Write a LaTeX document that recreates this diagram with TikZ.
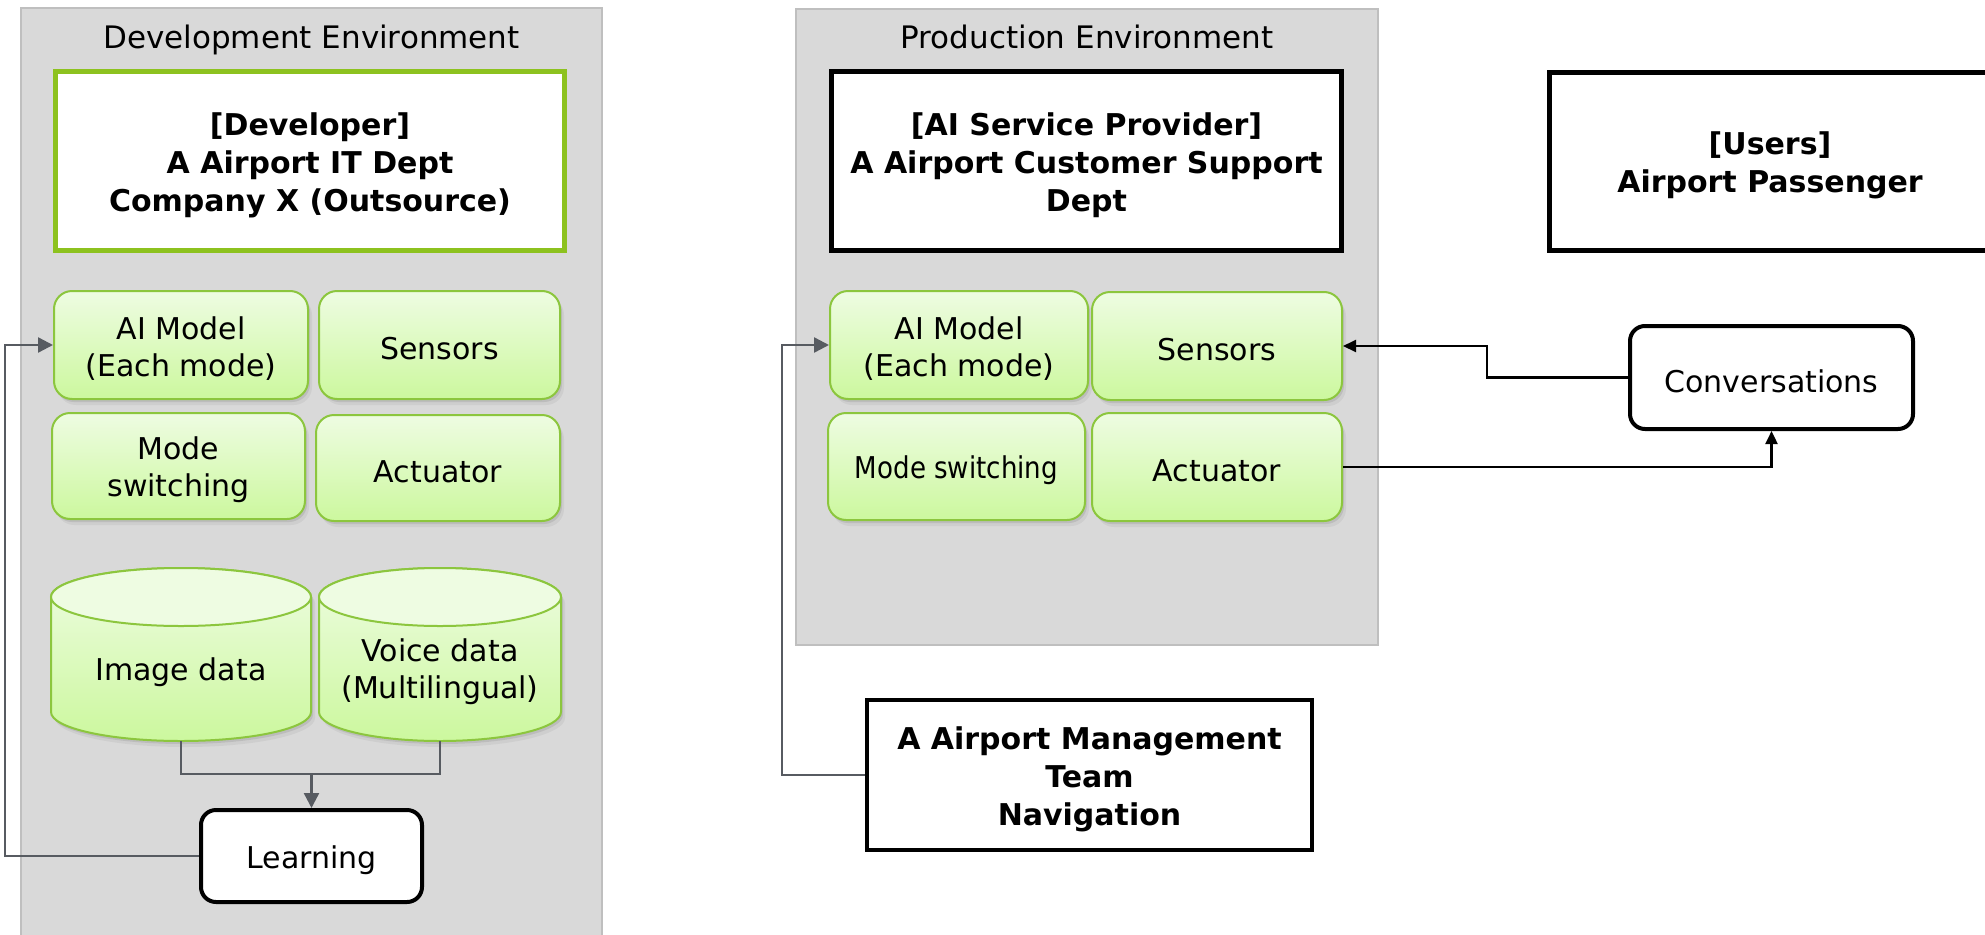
\documentclass[tikz,border=0pt]{standalone}
\usepackage{fontspec}
\setmainfont{DejaVu Sans}
\newfontfamily\narrowsans[FakeStretch=0.87]{DejaVu Sans}
\usetikzlibrary{arrows.meta,shadows}

\definecolor{envfill}{HTML}{D9D9D9}
\definecolor{envdraw}{HTML}{BFBFBF}
\definecolor{greentop}{HTML}{EEFCE2}
\definecolor{greenbot}{HTML}{CCF89E}
\definecolor{greenedge}{HTML}{8CC63E}
\definecolor{devgreen}{HTML}{8DC21F}
\definecolor{conngray}{HTML}{575B61}

\newcommand\txtnormal{\fontsize{30pt}{37pt}\selectfont}
\newcommand\txtbold{\fontsize{30pt}{38pt}\selectfont\bfseries}
\newcommand\txttitle{\fontsize{31pt}{37pt}\selectfont}

% text of a box, set a little below the box centre
\newcommand\boxlabel[3][]{\node[txtnode,#1] (#2-text) at ([yshift=-4pt]#2.center) {#3};}

% cylinder: name, centre x, top y, bottom y, x radius, y radius, text
\newcommand\drawcyl[7]{%
  \path[cylbody] ({#2-#5},{#3+#6}) -- ({#2-#5},{#4-#6})
    arc[start angle=180,end angle=0,x radius=#5,y radius=#6]
    -- ({#2+#5},{#3+#6})
    arc[start angle=360,end angle=180,x radius=#5,y radius=#6] -- cycle;
  \path[cylcap] (#2,{#3+#6}) ellipse[x radius=#5,y radius=#6];
  \node[inner sep=0,outer sep=0,minimum width={2*#5},minimum height={#4-#3}]
    (#1) at (#2,{(#3+#4)/2}) {};
  \node[txtnode] (#1-text) at (#2,672) {#7};
}

\begin{document}
\begin{tikzpicture}[x=1pt,y=-1pt,
  softshadow/.style={
    drop shadow={shadow xshift=2pt,shadow yshift=-3pt,opacity=.22},
    drop shadow={shadow xshift=4pt,shadow yshift=-6pt,opacity=.12}},
  envbox/.style={draw=envdraw,line width=2pt,fill=envfill,inner sep=0,outer sep=0},
  envtitle/.style={font=\txttitle,anchor=base,inner sep=0},
  txtnode/.style={align=center,font=\txtnormal,inner sep=0},
  greenbox/.style={draw=greenedge,line width=2pt,rounded corners=18pt,
    top color=greentop,bottom color=greenbot,softshadow,inner sep=0},
  cylbody/.style={draw=greenedge,line width=2pt,top color=greentop,bottom color=greenbot,softshadow},
  cylcap/.style={draw=greenedge,line width=2pt,fill=greentop},
  rolebox/.style={draw=black,line width=5pt,fill=white,inner sep=0},
  devrole/.style={rolebox,draw=devgreen},
  actbox/.style={draw=black,line width=4pt,fill=white,rounded corners=15pt,inner sep=0},
  gconn/.style={draw=conngray,line width=2.4pt},
  gtip/.style={gconn,-{Triangle[length=15pt,width=15pt]}},
  bconn/.style={draw=black,line width=2.2pt,-{Triangle[length=13pt,width=12pt]}}
]
\useasboundingbox (0,0) rectangle (1985,934);
\clip (0,0) rectangle (1985,934);

% environments
\node[envbox,minimum width=581pt,minimum height=950pt] (devenv) at (311.5,483) {};
\node[envtitle] (devtitle) at (311.5,48.5) {Development Environment};
\node[envbox,minimum width=582pt,minimum height=636pt] (prodenv) at (1087,327) {};
\node[envtitle] (prodtitle) at (1087,48.5) {Production Environment};

% development side
\node[devrole,minimum width=509pt,minimum height=179pt] (dev) at (310,161) {};
\boxlabel[font=\txtbold]{dev}{[Developer]\\A Airport IT Dept\\Company X (Outsource)}
\node[greenbox,minimum width=254pt,minimum height=108pt] (dAI) at (181,345) {};
\boxlabel{dAI}{AI Model\\(Each mode)}
\node[greenbox,minimum width=241pt,minimum height=108pt] (dSen) at (439.5,345) {};
\boxlabel{dSen}{Sensors}
\node[greenbox,minimum width=253pt,minimum height=106pt] (dMode) at (178.5,466) {};
\boxlabel{dMode}{Mode\\switching}
\node[greenbox,minimum width=244pt,minimum height=106pt] (dAct) at (438,468) {};
\boxlabel{dAct}{Actuator}
\drawcyl{img}{181}{568}{741}{130}{29}{Image data}
\drawcyl{voice}{440}{568}{741}{121}{29}{Voice data\\(Multilingual)}
\node[actbox,minimum width=221pt,minimum height=92pt] (learn) at (311.5,856) {};
\boxlabel{learn}{Learning}

% production side
\node[rolebox,minimum width=510pt,minimum height=179pt] (prov) at (1086.5,161) {};
\boxlabel[font=\txtbold]{prov}{[AI Service Provider]\\A Airport Customer Support\\Dept}
\node[greenbox,minimum width=258pt,minimum height=108pt] (pAI) at (959,345) {};
\boxlabel{pAI}{AI Model\\(Each mode)}
\node[greenbox,minimum width=250pt,minimum height=108pt] (pSen) at (1217,346) {};
\boxlabel{pSen}{Sensors}
\node[greenbox,minimum width=257pt,minimum height=107pt] (pMode) at (956.5,466.5) {};
\boxlabel[font=\narrowsans\fontsize{30pt}{37pt}\selectfont]{pMode}{Mode switching}
\node[greenbox,minimum width=250pt,minimum height=108pt] (pAct) at (1217,467) {};
\boxlabel{pAct}{Actuator}

% users and management
\node[rolebox,minimum width=441pt,minimum height=178pt] (users) at (1770,161.5) {};
\boxlabel[font=\txtbold]{users}{[Users]\\Airport Passenger}
\node[actbox,minimum width=283pt,minimum height=103pt] (conv) at (1771.5,377.5) {};
\boxlabel{conv}{Conversations}
\node[rolebox,line width=4pt,minimum width=445pt,minimum height=150pt] (mgmt) at (1089.5,775) {};
\boxlabel[font=\txtbold]{mgmt}{A Airport Management\\Team\\Navigation}

% connectors
\coordinate (merge) at (learn.north |- 0,774);
\draw[gconn] (img.south) |- (merge) -| (voice.south);
\draw[gtip] (merge) -- (learn.north);
\draw[gtip] (learn.west) -- ++(-194,0) |- (dAI.west);
\draw[gtip] (mgmt.west) -- ++(-83,0) |- (pAI.west);
\draw[bconn] (conv.west) -- ++(-141,0) |- (pSen.east);
\draw[bconn] (pAct.east) -| (conv.south);
\end{tikzpicture}
\end{document}
